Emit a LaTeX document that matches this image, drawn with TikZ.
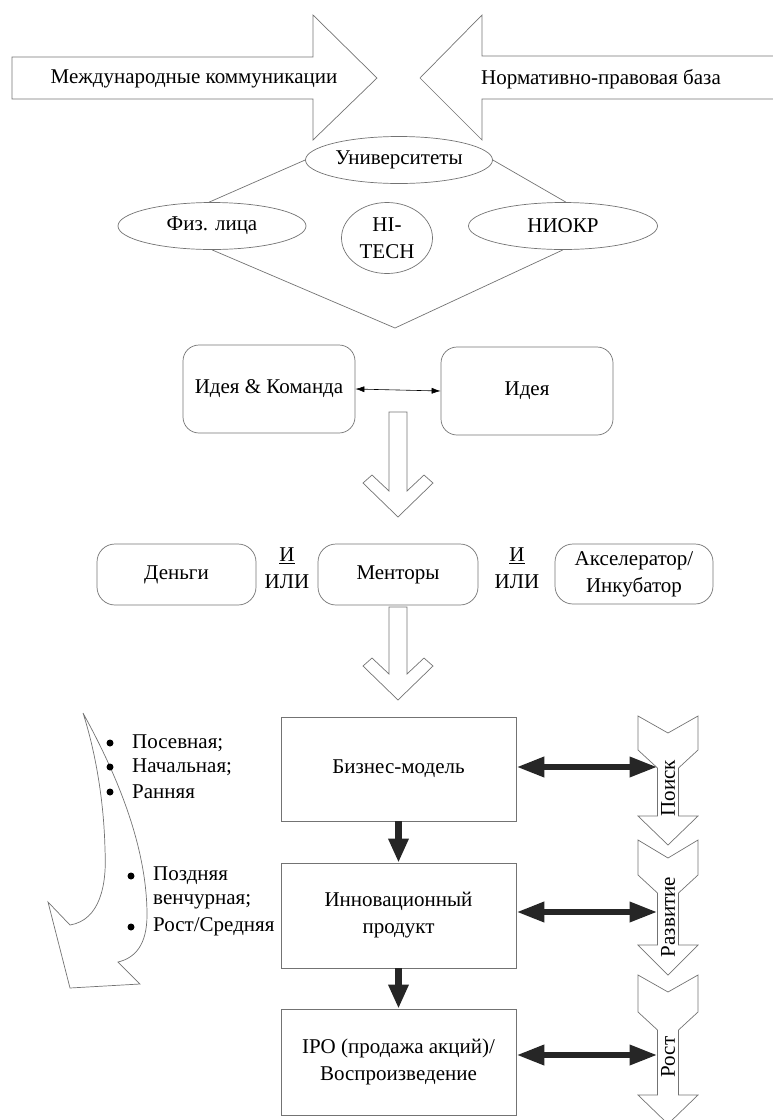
\documentclass[tikz,border=0pt]{standalone}
\usepackage{fontspec}
\setmainfont{Liberation Serif}
\newfontfamily\diagfont{Liberation Serif}
\usetikzlibrary{arrows.meta,shapes.geometric}
\begin{document}
\begin{tikzpicture}[x=1pt,y=-1pt,
  outl/.style={draw=black!55, line width=0.7pt},
  txt/.style={font=\diagfont\fontsize{21}{27}\selectfont, inner sep=0pt, align=center},
  ell/.style={outl, ellipse, inner sep=0pt, txt},
  rbox/.style={outl, rounded corners=16pt, inner sep=0pt, txt},
  sbox/.style={outl, rectangle, inner sep=0pt, txt, minimum width=235pt},
  downarr/.style={draw=black!85, line width=7pt, -{Triangle[length=24pt,width=19pt]}},
  dblarr/.style={draw=black!85, line width=6.5pt, {Triangle[length=28pt,width=19pt]}-{Triangle[length=28pt,width=19pt]}},
  thinarr/.style={draw=black, line width=0.6pt, {Latex[length=9pt,width=6pt]}-{Latex[length=9pt,width=6pt]}},
  bul/.style={circle, fill=black, inner sep=0pt, minimum size=7pt},
]
\useasboundingbox (0,0) rectangle (773,1120);

% top block arrows
\draw[outl] (12,57) -- (313,57) -- (313,15) -- (377,78) -- (313,140) -- (313,99) -- (12,99) -- cycle;
\draw[outl] (773,56) -- (482,56) -- (482,15) -- (420,78) -- (482,140) -- (482,99) -- (773,99);
\node[txt] (intl) at (194,79) {Международные коммуникации};
\node[txt] (norm) at (601,79) {Нормативно-правовая база};

% ellipses
\node[ell, minimum width=187pt, minimum height=47pt] (univ) at (399,160) {Университеты};
\node[ell, minimum width=188pt, minimum height=47pt] (fiz) at (212,226) {Физ. лица};
\node[ell, minimum width=91pt, minimum height=71pt] (hitech) at (387,238) {HI-\\TECH};
\node[ell, minimum width=189pt, minimum height=47pt] (niokr) at (563,226) {НИОКР};
\coordinate (dbot) at (395,328);
\draw[outl] (univ.west) -- (fiz.97);
\draw[outl] (univ.east) -- (niokr.83);
\draw[outl] (fiz.south) -- (dbot) -- (niokr.south);

% idea boxes
\node[rbox, minimum width=172pt, minimum height=88pt] (team) at (269,389) {Идея \& Команда};
\node[rbox, minimum width=172pt, minimum height=88pt] (idea) at (527,391) {Идея};
\draw[thinarr] (team.east) -- (idea.west);

% hollow down arrows
\draw[outl] (389,412) -- (389,491) -- (372,475) -- (363,483) -- (398,517) -- (433,483) -- (424,475) -- (407,491) -- (407,412) -- cycle;
\draw[outl] (389,607) -- (389,674) -- (372,658) -- (363,666) -- (398,700) -- (433,666) -- (424,658) -- (407,674) -- (407,607) -- cycle;

% resources row
\node[rbox, rounded corners=18pt, minimum width=159pt, minimum height=61pt] (money) at (176.5,574.5) {Деньги};
\node[rbox, rounded corners=18pt, minimum width=160pt, minimum height=61pt] (mentor) at (398,574.5) {Менторы};
\node[rbox, rounded corners=18pt, minimum width=158pt, minimum height=60pt] (accel) at (634,574) {Акселератор/\\Инкубатор};
\node[txt] (and1) at (287,556) {\underline{И}};
\node[txt] (or1) at (287,582) {ИЛИ};
\node[txt] (and2) at (517,556) {\underline{И}};
\node[txt] (or2) at (517,582) {ИЛИ};

% stage boxes
\node[sbox, minimum height=104pt] (bm) at (398.5,769) {Бизнес-модель};
\node[sbox, minimum height=105pt] (inn) at (398.5,915.5) {Инновационный\\продукт};
\node[sbox, minimum height=106pt] (ipo) at (398.5,1062) {IPO (продажа акций)/\\Воспроизведение};
\draw[downarr] (bm.south) -- (inn.north);
\draw[downarr] (inn.south) -- (ipo.north);

% chevrons
\draw[outl] (638,716) -- (668,733) -- (698,716) -- (698,750) -- (678.5,768) -- (678.5,816) -- (698,816) -- (668,845) -- (638,816) -- (657.5,816) -- (657.5,768) -- (638,750) -- cycle;
\draw[outl] (638,840) -- (668,858) -- (698,840) -- (698,875) -- (678.5,893) -- (678.5,945) -- (698,945) -- (668,975) -- (638,945) -- (657.5,945) -- (657.5,893) -- (638,875) -- cycle;
\draw[outl] (638,975) -- (668,992) -- (698,975) -- (698,1012) -- (678.5,1030) -- (678.5,1095) -- (698,1095) -- (668,1124) -- (638,1095) -- (657.5,1095) -- (657.5,1030) -- (638,1012) -- cycle;
\node[txt, rotate=90] (search) at (668,788) {Поиск};
\node[txt, rotate=90] (devel) at (668,917) {Развитие};
\node[txt, rotate=90] (grow) at (668,1057) {Рост};
\coordinate (c1) at (657.5,767);
\coordinate (c2) at (657.5,912);
\coordinate (c3) at (657.5,1055);
\draw[dblarr] (bm.east |- c1) -- (c1);
\draw[dblarr] (inn.east |- c2) -- (c2);
\draw[dblarr] (ipo.east |- c3) -- (c3);

% curved arrow
\draw[outl] (83,713) .. controls (120,780) and (147,850) .. (147,915)
  .. controls (147,945) and (135,958) .. (118,962) -- (140,984) -- (70,988) -- (48,902) -- (70,925)
  .. controls (100,920) and (107,885) .. (105,850)
  .. controls (104,800) and (95,750) .. (83,713) -- cycle;

% stage bullets
\node[bul] (b1) at (110,743) {};
\node[bul] (b2) at (110,767) {};
\node[bul] (b3) at (110,792) {};
\node[txt, anchor=west] (t1) at (132,743) {Посевная;};
\node[txt, anchor=west] (t2) at (132,767) {Начальная;};
\node[txt, anchor=west] (t3) at (132,792) {Ранняя};
\node[bul] (b4) at (131,876) {};
\node[bul] (b5) at (131,927) {};
\node[txt, anchor=west] (t4) at (153,876) {Поздняя};
\node[txt, anchor=west] (t5) at (153,902) {венчурная;};
\node[txt, anchor=west] (t6) at (153,927) {Рост/Средняя};
\end{tikzpicture}
\end{document}
